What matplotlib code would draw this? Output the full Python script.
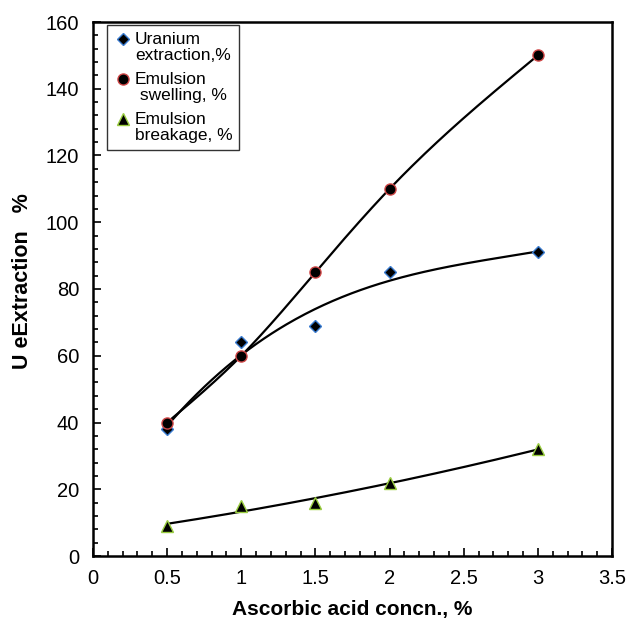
import numpy as np
import matplotlib
matplotlib.use("Agg")
import matplotlib.pyplot as plt
from matplotlib.ticker import MultipleLocator, FuncFormatter
from matplotlib.transforms import Affine2D

plt.rcParams['font.family'] = ['Liberation Sans', 'DejaVu Sans']

x = [0.5, 1.0, 1.5, 2.0, 3.0]
uranium = [38, 64, 69, 85, 91]
swelling = [40, 60, 85, 110, 150]
breakage = [9, 15, 16, 22, 32]

labels = ["Uranium\nextraction,%", "Emulsion\n swelling, %", "Emulsion\nbreakage, %"]


def natural_spline(px, py, n=60):
    px = np.asarray(px, float); py = np.asarray(py, float)
    m = len(px)
    h = np.diff(px)
    s = np.diff(py) / h
    A = np.zeros((m, m)); r = np.zeros(m)
    A[0, 0] = 1; A[-1, -1] = 1
    for i in range(1, m - 1):
        A[i, i - 1] = h[i - 1]
        A[i, i] = 2 * (h[i - 1] + h[i])
        A[i, i + 1] = h[i]
        r[i] = 6 * (s[i] - s[i - 1])
    M = np.linalg.solve(A, r)
    xx, yy = [], []
    for i in range(m - 1):
        t = np.linspace(px[i], px[i + 1], n)
        a = (px[i + 1] - t) / h[i]
        b = (t - px[i]) / h[i]
        y = a * py[i] + b * py[i + 1] + ((a ** 3 - a) * M[i] + (b ** 3 - b) * M[i + 1]) * h[i] ** 2 / 6
        xx.append(t); yy.append(y)
    return np.concatenate(xx), np.concatenate(yy)


fig = plt.figure(figsize=(6.30, 6.19), dpi=100)
ax = fig.add_axes([93 / 630, 1 - 556 / 619, (612 - 93) / 630, (556 - 22) / 619])

xs = np.linspace(min(x), max(x), 200)
ax.plot(xs, np.polyval(np.polyfit(x, uranium, 3), xs), color='black', lw=1.6, zorder=2)
sx, sy = natural_spline(x, swelling)
ax.plot(sx, sy, color='black', lw=1.6, zorder=2)
ax.plot(xs, np.polyval(np.polyfit(x, breakage, 2), xs), color='black', lw=1.6, zorder=2)

h1 = ax.plot(x, uranium, ls='none', marker='D', ms=6, mfc='black', mec='#3a7cd0', mew=1.0, zorder=3)[0]
h2 = ax.plot(x, swelling, ls='none', marker='o', ms=8, mfc='black', mec='#d04848', mew=1.0, zorder=3)[0]
h3 = ax.plot(x, breakage, ls='none', marker='^', ms=8.5, mfc='black', mec='#9acd40', mew=1.0, zorder=3)[0]

ax.set_xlim(0, 3.5)
ax.set_ylim(0, 160)
ax.xaxis.set_major_locator(MultipleLocator(0.5))
ax.xaxis.set_minor_locator(MultipleLocator(0.1))
ax.yaxis.set_major_locator(MultipleLocator(20))
ax.yaxis.set_minor_locator(MultipleLocator(4))
ax.xaxis.set_major_formatter(FuncFormatter(lambda v, p: '%g' % v))
ax.tick_params(which='both', direction='in', labelsize=14.5, width=1.2)
ax.tick_params(which='major', length=5.5)
ax.tick_params(which='minor', length=3.5)
ax.tick_params(axis='x', which='major', pad=9)
ax.tick_params(axis='y', which='major', pad=10)
ax.tick_params(axis='x', which='both', top=False)
ax.tick_params(axis='y', which='both', right=False)
for sp in ax.spines.values():
    sp.set_linewidth(1.8)

ax.set_xlabel("Ascorbic acid concn., %", fontsize=15, fontweight='bold', labelpad=9)
ax.set_ylabel("U eExtraction   %", fontsize=15.5, fontweight='bold', labelpad=9, y=0.515)

leg = ax.legend([h1, h2, h3], labels, loc='upper left', bbox_to_anchor=(14 / 519, 1 - 3 / 534),
                fontsize=12.5, frameon=True, fancybox=False, edgecolor='black',
                handletextpad=0.2, handlelength=1.0, borderpad=0.4, labelspacing=0.5,
                borderaxespad=0.0)
leg.get_frame().set_linewidth(1.0)
for t in leg.get_texts():
    t.set_linespacing(1.1)
for hnd in leg.legend_handles:
    hnd.set_transform(hnd.get_transform() + Affine2D().translate(0, 8.5))

fig.savefig("out.png", dpi=100)
